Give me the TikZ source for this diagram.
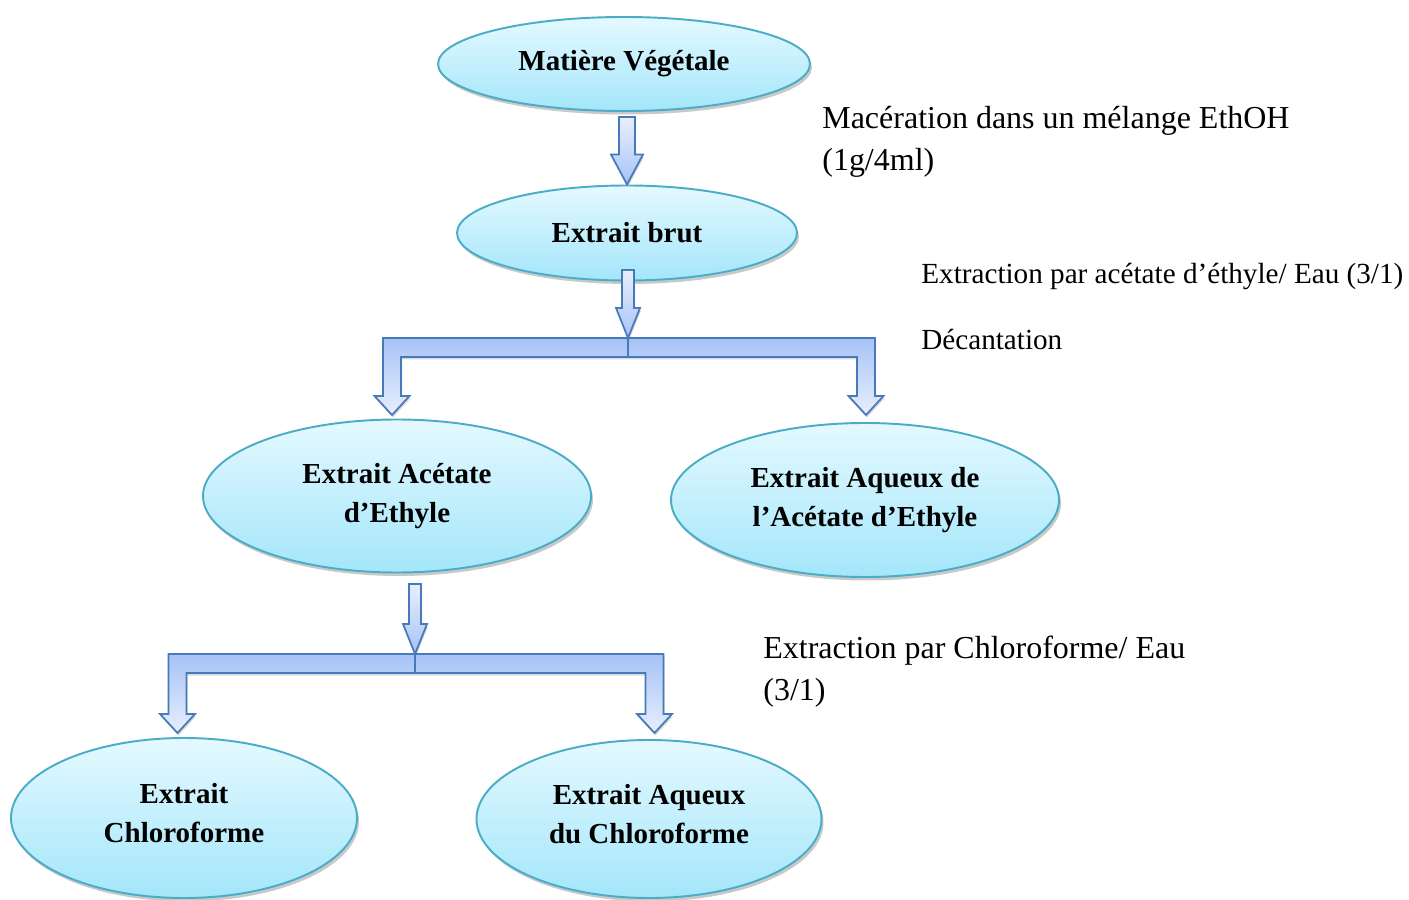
\documentclass[tikz,border=0pt]{standalone}
\usepackage{fontspec}
\setmainfont{Liberation Serif}
\usetikzlibrary{shapes.geometric,shadows,calc}

\definecolor{ellborder}{RGB}{75,172,198}
\definecolor{elltop}{RGB}{228,249,255}
\definecolor{ellbottom}{RGB}{164,230,250}
\definecolor{arrborder}{RGB}{72,122,186}
\definecolor{arrlight}{RGB}{232,239,252}
\definecolor{arrdark}{RGB}{166,195,247}

\tikzset{
	etape/.style={ellipse, draw=ellborder, line width=1.1pt, top color=elltop, bottom color=ellbottom,
		drop shadow={shadow xshift=0.04cm, shadow yshift=-0.07cm, fill=gray!85},
		inner sep=0pt, align=center, font=\fontsize{16.5}{22}\selectfont\bfseries},
	remarque/.style={anchor=west, inner sep=0pt, align=left},
	fleche/.style={draw=arrborder, line width=1pt, line join=miter, top color=arrlight, bottom color=arrdark,
		drop shadow={shadow xshift=0.02cm, shadow yshift=-0.05cm, fill=gray!60}},
	fourche/.style={fleche, top color=arrdark, bottom color=arrlight},
	couture/.style={draw=arrborder, line width=1pt}
}

% #1 haut de la fleche, #2 pointe, #3 demi-largeur du corps
\newcommand{\flechebas}[3]{
	\path[fleche] let \p1=(#1), \p2=(#2) in
		({\x2-#3cm},{\y1}) -- ({\x2+#3cm},{\y1}) -- ({\x2+#3cm},{\y2+0.6cm}) -- ({\x2+2*#3cm},{\y2+0.6cm})
		-- (\x2,\y2) -- ({\x2-2*#3cm},{\y2+0.6cm}) -- ({\x2-#3cm},{\y2+0.6cm}) -- cycle;
}

% #1 point de partage, #2 pointe gauche, #3 pointe droite
\newcommand{\fourche}[3]{
	\path[fourche] let \p1=(#1), \p2=(#2), \p3=(#3) in
		({\x2-0.18cm},{\y1}) -- ({\x3+0.18cm},{\y1}) -- ({\x3+0.18cm},{\y3+0.38cm}) -- ({\x3+0.35cm},{\y3+0.38cm})
		-- (\x3,\y3) -- ({\x3-0.35cm},{\y3+0.38cm}) -- ({\x3-0.18cm},{\y3+0.38cm}) -- ({\x3-0.18cm},{\y1-0.38cm})
		-- ({\x2+0.18cm},{\y1-0.38cm}) -- ({\x2+0.18cm},{\y2+0.38cm}) -- ({\x2+0.35cm},{\y2+0.38cm})
		-- (\x2,\y2) -- ({\x2-0.35cm},{\y2+0.38cm}) -- ({\x2-0.18cm},{\y2+0.38cm}) -- cycle;
	\draw[couture] let \p1=(#1) in (\x1,\y1) -- (\x1,{\y1-0.38cm});
}

\begin{document}
\begin{tikzpicture}
	\useasboundingbox (0, 0) rectangle (28.18, 17.98);

	\node[etape, minimum width=7.44cm, minimum height=1.88cm] (veg) at (12.48, 16.70) {Matière Végétale};
	\node[etape, minimum width=6.8cm, minimum height=1.9cm] (brut) at (12.54, 13.32) {Extrait brut};
	\node[etape, minimum width=7.76cm, minimum height=3.06cm] (acet) at (7.94, 8.06) {Extrait Acétate\\d’Ethyle};
	\node[etape, minimum width=7.76cm, minimum height=3.08cm] (aqacet) at (17.30, 7.98) {Extrait Aqueux de\\l’Acétate d’Ethyle};
	\node[etape, minimum width=6.92cm, minimum height=3.2cm] (chloro) at (3.68, 1.62) {Extrait\\Chloroforme\rule[-0.2cm]{0pt}{0.2cm}};
	\node[etape, minimum width=6.9cm, minimum height=3.16cm] (aqchloro) at (12.98, 1.60) {Extrait Aqueux\\du Chloroforme\rule[-0.2cm]{0pt}{0.2cm}};

	\coordinate (haut1) at ($(veg.south)+(0, -0.10)$);
	\coordinate (haut2) at ($(brut.south)+(0, 0.23)$);
	\coordinate (haut3) at ($(acet.south)+(0, -0.21)$);
	\coordinate (split1) at (12.56, 11.22);
	\coordinate (split2) at (8.30, 4.90);
	\coordinate (pointe1g) at (7.84, 9.68);
	\coordinate (pointe1d) at (17.32, 9.68);
	\coordinate (pointe2g) at (3.55, 3.32);
	\coordinate (pointe2d) at (13.09, 3.32);

	\flechebas{haut1}{brut.north}{0.16}
	\flechebas{haut2}{split1}{0.12}
	\fourche{split1}{pointe1g}{pointe1d}
	\flechebas{haut3}{split2}{0.12}
	\fourche{split2}{pointe2g}{pointe2d}

	\node[remarque, font=\fontsize{18.2}{23.9}\selectfont] (maceration) at (16.44, 15.14) {Macération dans un mélange EthOH\\(1g/4ml)};
	\node[remarque, font=\fontsize{16.6}{20}\selectfont] (extraction1) at (18.42, 12.44) {Extraction par acétate d’éthyle/ Eau (3/1)};
	\node[remarque, font=\fontsize{16.6}{20}\selectfont] (decantation) at (18.42, 11.18) {Décantation};
	\node[remarque, font=\fontsize{18.2}{23.9}\selectfont] (extraction2) at (15.26, 4.54) {Extraction par Chloroforme/ Eau\\(3/1)};
\end{tikzpicture}
\end{document}
